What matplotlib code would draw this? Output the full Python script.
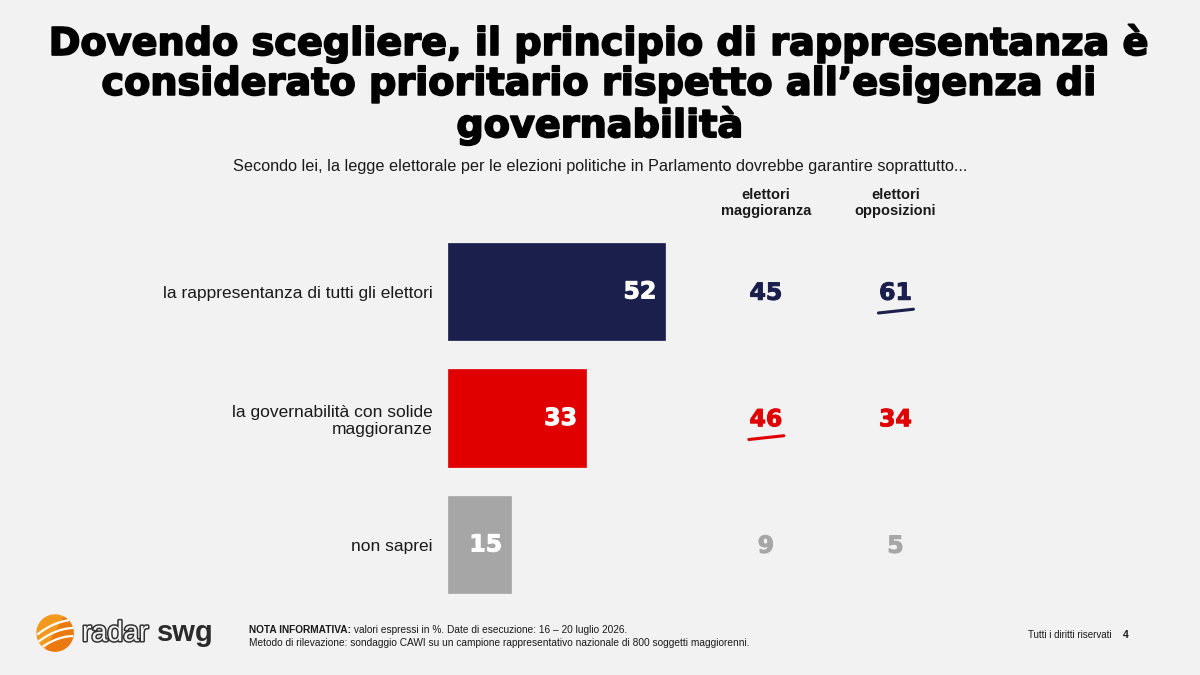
import numpy as np
import matplotlib.pyplot as plt
from matplotlib.patches import Circle, Wedge
import matplotlib.patheffects as pe

plt.rcParams['font.family'] = ['Liberation Sans', 'DejaVu Sans']

# data
categories = ['la rappresentanza di tutti gli elettori',
              'la governabilità con solide\nmaggioranze',
              'non saprei']
totale = [52, 33, 15]
maggioranza = [45, 46, 9]
opposizioni = [61, 34, 5]
col_headers = ['elettori\nmaggioranza', 'elettori\nopposizioni']
highlight = {'maggioranza': 1, 'opposizioni': 0}  # row underlined in each column

colors = ['#1b1f4c', '#e00000', '#a6a6a6']
bg = '#f2f2f2'
heavy = ['DejaVu Sans']


def fat(c, w=1.0):
    # thicken strokes a bit to look like a black-weight font
    return [pe.withStroke(linewidth=w, foreground=c)]


fig = plt.figure(figsize=(12, 6.75), dpi=100, facecolor=bg)

# title + subtitle
fig.text(0.5, 1 - 85 / 675, "Dovendo scegliere, il principio di rappresentanza è\n"
         "considerato prioritario rispetto all’esigenza di\ngovernabilità",
         ha='center', va='center', fontsize=27.5, fontweight='bold', family=heavy,
         linespacing=1.14, color='black', path_effects=fat('black', 1.3))
fig.text(0.5, 1 - 167 / 675,
         'Secondo lei, la legge elettorale per le elezioni politiche in Parlamento dovrebbe garantire soprattutto...',
         ha='center', va='center', fontsize=11.7, color='#1a1a1a')

ax = fig.add_axes([448 / 1200, 1 - 607.75 / 675, 500 / 1200, 379.5 / 675])
ax.set_facecolor(bg)
ax.patch.set_alpha(0)
y = np.arange(len(categories))
ax.barh(y, totale, height=0.767, color=colors, edgecolor=colors, linewidth=0.5)
ax.set_xlim(0, 120)
ax.set_ylim(2.5, -0.5)
for s in ax.spines.values():
    s.set_visible(False)
ax.set_xticks([])
ax.set_yticks(y)
ax.set_yticklabels(categories, fontsize=12.5, color='#1a1a1a')
ax.tick_params(axis='y', length=0, pad=11)
for lab in ax.get_yticklabels():
    lab.set_horizontalalignment('right')

for i, v in enumerate(totale):
    ax.text(v - 2.0, i, str(v), ha='right', va='center', color='white',
            fontsize=17, fontweight='bold', family=heavy, path_effects=fat('white', 0.7))

col_x = [76.3, 107.4]
for cx, head in zip(col_x, col_headers):
    ax.text(cx, -0.7, head, ha='center', va='center', fontsize=10.5,
            fontweight='bold', color='#1a1a1a', clip_on=False, linespacing=1.15)

for cx, vals, key in zip(col_x, [maggioranza, opposizioni], ['maggioranza', 'opposizioni']):
    for i, v in enumerate(vals):
        ax.text(cx, i + 0.01, str(v), ha='center', va='center', color=colors[i],
                fontsize=17, fontweight='bold', family=heavy, clip_on=False,
                path_effects=fat(colors[i], 0.7))
    r = highlight[key]
    ax.plot([cx - 4.1, cx + 4.3], [r + 0.17, r + 0.14], color=colors[r],
            lw=2.2, solid_capstyle='round', clip_on=False)

# footer: logo
lax = fig.add_axes([0, 0, 1, 1], zorder=-1)
lax.set_xlim(0, 1200)
lax.set_ylim(675, 0)
lax.axis('off')
lax.add_patch(Circle((55, 633), 18, color='#f39a1e'))
lax.add_patch(Wedge((55, 633), 18, -60, 120, color='#ea7a10'))
for off in [-9, -1, 7]:
    t = np.linspace(-1, 1, 50)
    xs = 55 + 17 * t
    ys = 633 + off - 7 * t + 3 * t ** 2
    m = (xs - 55) ** 2 + (ys - 633) ** 2 < 18 ** 2
    lax.plot(xs[m], ys[m], color='white', lw=1.6)
lax.text(82, 634, 'radar', fontsize=20.5, color=bg, va='center', ha='left',
         path_effects=[pe.withStroke(linewidth=2.2, foreground='#333333')])
lax.text(157, 633, 'swg', fontsize=21, color='#2b2b2b', fontweight='bold',
         va='center', ha='left')

nota = fig.text(249 / 1200, 1 - 630 / 675, 'NOTA INFORMATIVA:', fontsize=7.3,
                fontweight='bold', va='center', ha='left', color='#1a1a1a')
plt.annotate(' valori espressi in %. Date di esecuzione: 16 – 20 luglio 2026.',
             xy=(1, 0.5), xycoords=nota, fontsize=7.3, va='center', ha='left',
             color='#1a1a1a', annotation_clip=False)
fig.text(249 / 1200, 1 - 643 / 675,
         'Metodo di rilevazione: sondaggio CAWI su un campione rappresentativo nazionale di 800 soggetti maggiorenni.',
         fontsize=7.3, va='center', ha='left', color='#1a1a1a')
fig.text(1028 / 1200, 1 - 635 / 675, 'Tutti i diritti riservati', fontsize=7,
         va='center', ha='left', color='#1a1a1a')
fig.text(1126 / 1200, 1 - 635 / 675, '4', fontsize=7.5, fontweight='bold',
         va='center', ha='center', color='#1a1a1a')

fig.savefig('out.png', dpi=100, facecolor=bg)
